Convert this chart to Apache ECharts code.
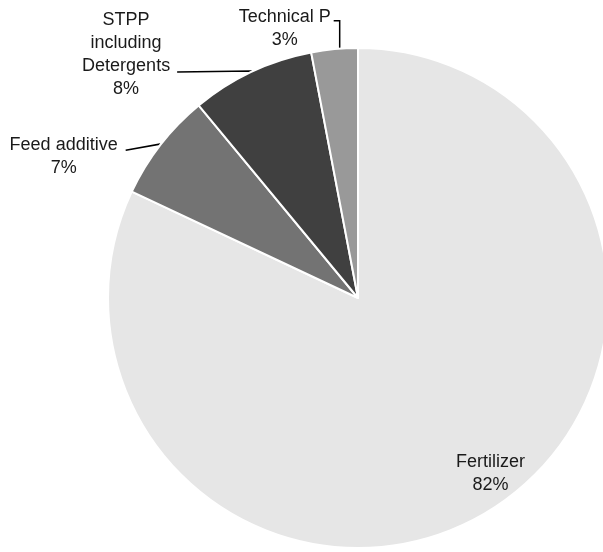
<!DOCTYPE html>
<html>
<head>
<meta charset="utf-8">
<script src="https://cdn.jsdelivr.net/npm/echarts@6/dist/echarts.min.js"></script>
<style>
  html, body { margin: 0; padding: 0; background: #fff; }
  #chart { width: 603px; height: 552px; }
</style>
</head>
<body>
<div id="chart"></div>
<script>
// Shares of phosphate use by sector (%)
const categories = ['Fertilizer', 'Feed additive', 'STPP including Detergents', 'Technical P'];
const shares = [82, 7, 8, 3];
// How each category name is broken over lines in its label
const labelNames = ['Fertilizer', 'Feed additive', 'STPP\nincluding\nDetergents', 'Technical P'];
const sliceColors = ['#e6e6e6', '#737373', '#404040', '#999999'];

// Pie geometry
const CX = 358, CY = 298, R = 250;

// Per-slice label placement
const labelStyle = [
  { inside: true, angle: 143, radius: 0.88 },
  { length: 1, length2: 34, distance: 8, shiftY: 12, lineDrop: 6 },
  { length: 1, length2: 74, distance: 7, shiftY: -16, lineDrop: 1 },
  // leader line leaves the rim at anchorAngle (degrees from 12 o'clock), rises, then turns left
  { length: 28, length2: 6, distance: 3, shiftY: 7.5, lineDrop: 0, anchorAngle: -4.2 }
];

const data = categories.map((name, i) => {
  const s = labelStyle[i];
  const item = {
    name: name,
    value: shares[i],
    itemStyle: { color: sliceColors[i] }
  };
  if (s.inside) {
    item.label = { position: 'inside' };
    item.labelLine = { show: false };
  } else {
    item.label = { position: 'outside', distanceToLabelLine: s.distance };
    item.labelLine = { show: true, length: s.length, length2: s.length2 };
  }
  return item;
});

const chart = echarts.init(document.getElementById('chart'), null, { renderer: 'canvas' });
chart.setOption({
  animation: false,
  backgroundColor: '#ffffff',
  series: [{
    type: 'pie',
    center: [CX, CY],
    radius: [0, R],
    startAngle: 90,
    clockwise: true,
    avoidLabelOverlap: false,
    silent: true,
    data: data,
    itemStyle: { borderColor: '#ffffff', borderWidth: 2 },
    label: {
      show: true,
      color: '#1a1a1a',
      fontFamily: 'Liberation Sans, Arial, sans-serif',
      fontSize: 18,
      lineHeight: 23,
      bleedMargin: 0,
      formatter: p => labelNames[p.dataIndex] + '\n' + p.value + '%'
    },
    labelLine: {
      lineStyle: { color: '#000000', width: 1.5 },
      smooth: false
    },
    labelLayout: function (p) {
      const s = labelStyle[p.dataIndex];
      const rect = p.labelRect;
      if (s.inside) {
        const a = s.angle * Math.PI / 180;
        return {
          x: CX + R * s.radius * Math.sin(a),
          y: CY - R * s.radius * Math.cos(a),
          align: 'center',
          verticalAlign: 'middle'
        };
      }
      if (s.anchorAngle != null) {
        const a = s.anchorAngle * Math.PI / 180;
        const x0 = CX + R * Math.sin(a);
        const y0 = CY - R * Math.cos(a);
        const y1 = y0 - s.length;
        const x2 = x0 - s.length2;
        return {
          x: x2 - s.distance - rect.width / 2,
          y: y1 + s.shiftY,
          align: 'center',
          verticalAlign: 'middle',
          labelLinePoints: [[x0, y0], [x0, y1], [x2, y1]]
        };
      }
      const pts = (p.labelLinePoints || []).map(pt => pt.slice());
      const out = {
        x: rect.x + rect.width / 2,
        y: rect.y + rect.height / 2 + s.shiftY,
        align: 'center',
        verticalAlign: 'middle'
      };
      if (pts.length) {
        pts[pts.length - 1][1] += s.lineDrop;
        out.labelLinePoints = pts;
      }
      return out;
    }
  }]
});
</script>
</body>
</html>
